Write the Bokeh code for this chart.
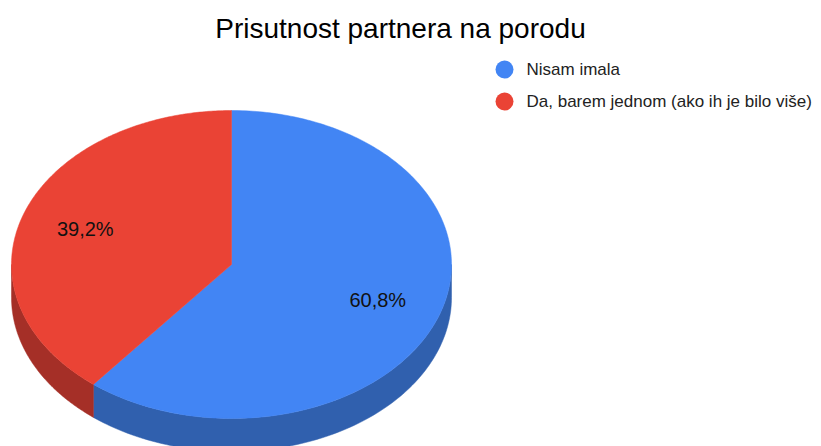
import numpy as np
from bokeh.plotting import figure
from bokeh.models import Range1d
from bokeh.core.properties import value
from bokeh.embed import file_html
from bokeh.resources import INLINE

# Data
categories = ["Nisam imala", "Da, barem jednom (ako ih je bilo više)"]
shares = [60.8, 39.2]
labels = ["60,8%", "39,2%"]
top_colors = ["#4285f4", "#ea4335"]
side_colors = ["#3060ae", "#a52f27"]
title = "Prisutnost partnera na porodu"

W, H = 821, 446
p = figure(width=W, height=H, output_backend="svg", toolbar_location=None,
           x_range=Range1d(0, W), y_range=Range1d(H, 0), min_border=0)
p.axis.visible = False
p.grid.visible = False
p.outline_line_color = None
p.background_fill_color = "white"

# geometry (px)
cx, cy = 231, 264
rx, ry = 220, 154
depth = 33

def pt(theta_deg, dy=0.0):
    t = np.radians(theta_deg)
    return cx + rx * np.sin(t), cy - ry * np.cos(t) + dy

total = sum(shares)
bounds = []
start = 0.0
for s in shares:
    end = start + 360.0 * s / total
    bounds.append((start, end))
    start = end

# side walls (visible front part: angles 90..270)
sx, sy, sc = [], [], []
for (a, b), col in zip(bounds, side_colors):
    lo, hi = max(a, 90.0), min(b, 270.0)
    if hi <= lo:
        continue
    th = np.linspace(lo, hi, 120)
    xt, yt = pt(th)
    xb, yb = pt(th[::-1], depth)
    sx.append(list(xt) + list(xb))
    sy.append(list(yt) + list(yb))
    sc.append(col)
p.patches(sx, sy, fill_color=sc, line_color=sc, line_width=0.5)

# top faces
tx, ty = [], []
for (a, b) in bounds:
    th = np.linspace(a, b, 240)
    xt, yt = pt(th)
    tx.append([cx] + list(xt))
    ty.append([cy] + list(yt))
p.patches(tx, ty, fill_color=top_colors, line_color=top_colors, line_width=0.5)

# slice labels
lx, ly = [], []
for (a, b) in bounds:
    m = np.radians((a + b) / 2)
    lx.append(cx + 0.705 * rx * np.sin(m))
    ly.append(cy - 0.70 * ry * np.cos(m))
p.text(lx, ly, text=labels, text_align="center", text_baseline="middle",
       text_font=value("Liberation Sans"), text_font_size="20px", text_color="#111111")

# title
p.text([400], [28], text=[title], text_align="center", text_baseline="middle",
       text_font=value("Liberation Sans"), text_font_size="28px", text_color="#000000")

# legend
ly0 = [69 + i * 32 for i in range(len(categories))]
p.scatter([504] * len(categories), ly0, size=18, fill_color=top_colors, line_color=None)
p.text([526] * len(categories), ly0, text=categories, text_align="left", text_baseline="middle",
       text_font=value("Liberation Sans"), text_font_size="17px", text_color="#222222")

open("out.html", "w").write(file_html(p, INLINE))
